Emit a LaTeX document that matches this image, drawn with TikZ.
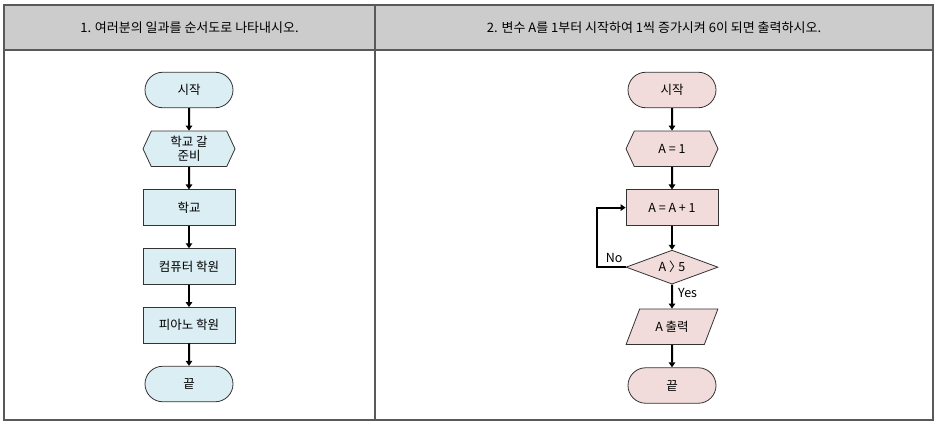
\documentclass[tikz,border=0pt]{standalone}
\usepackage{fontspec}
\setmainfont{Noto Sans CJK KR}
\usepackage{xcolor}
\usetikzlibrary{arrows.meta, positioning, shapes.geometric, shapes.misc, shapes.symbols}

\definecolor{headgray}{HTML}{CCCCCC}
\definecolor{framegray}{HTML}{595959}
\definecolor{lightblue}{HTML}{DBEEF4}
\definecolor{lightpink}{HTML}{F2DCDB}

\begin{document}
\begin{tikzpicture}[
    x=1pt, y=1pt,
    >={Triangle[length=5pt,width=6.5pt]},
    node distance=22.5pt,
    base/.style={
        draw=black!80, line width=0.8pt, minimum width=92pt, minimum height=35.5pt,
        inner sep=2pt, align=center, font=\fontsize{12.5}{14}\selectfont
    },
    term/.style={base, rounded rectangle},
    prep/.style={base, signal, signal to=west and east, signal pointer angle=130},
    proc/.style={base, rectangle},
    cond/.style={base, diamond, aspect=2.7, minimum height=34pt},
    io/.style={
        base, trapezium, trapezium left angle=63, trapezium right angle=117,
        trapezium stretches=true
    },
    flow/.style={->, line width=2pt},
    lbl/.style={inner sep=0pt, font=\fontsize{12.5}{14}\selectfont},
    head/.style={font=\fontsize{13}{15}\selectfont}
]

\useasboundingbox (0,0) rectangle (937,-423);

% table
\draw[framegray, line width=1.2pt, fill=headgray] (4,-5) rectangle (933,-50);
\draw[framegray, line width=1.2pt] (4,-5) rectangle (933,-420);
\draw[framegray, line width=1.2pt] (375,-5) -- (375,-420);

\node[head] (head1) at (189.5,-27.5) {1. 여러분의 일과를 순서도로 나타내시오.};
\node[head] (head2) at (654,-27.5) {2. 변수 A를 1부터 시작하여 1씩 증가시켜 6이 되면 출력하시오.};

% left chart
\node[term, fill=lightblue] (start1) at (189,-90) {시작};
\node[prep, fill=lightblue, below=of start1] (ready) {학교 갈\\준비};
\node[proc, fill=lightblue, below=of ready] (school) {학교};
\node[proc, fill=lightblue, below=of school] (computer) {컴퓨터 학원};
\node[proc, fill=lightblue, below=of computer] (piano) {피아노 학원};
\node[term, fill=lightblue, below=of piano] (end1) {끝};

\draw[flow] (start1) -- (ready);
\draw[flow] (ready) -- (school);
\draw[flow] (school) -- (computer);
\draw[flow] (computer) -- (piano);
\draw[flow] (piano) -- (end1);

% right chart
\node[term, fill=lightpink] (start2) at (672,-90) {시작};
\node[prep, fill=lightpink, below=of start2] (init) {A = 1};
\node[proc, fill=lightpink, below=of init] (inc) {A = A + 1};
\node[cond, fill=lightpink, below=24pt of inc] (check) {A 〉\kern-0.25em 5};
\node[io, fill=lightpink, below=24pt of check] (out) {A 출력};
\node[term, fill=lightpink, below=of out] (end2) {끝};

\draw[flow] (start2) -- (init);
\draw[flow] (init) -- (inc);
\draw[flow] (inc) -- (check);
\draw[flow] (check) -- (out);
\draw[flow] (out) -- (end2);
\draw[flow] (check.west) -- ++(-29,0) |- (inc.west);

\node[lbl, above left=4pt and 3pt of check.west] (no) {No};
\node[lbl, below right=4pt and 6pt of check.south] (yes) {Yes};

\end{tikzpicture}
\end{document}
